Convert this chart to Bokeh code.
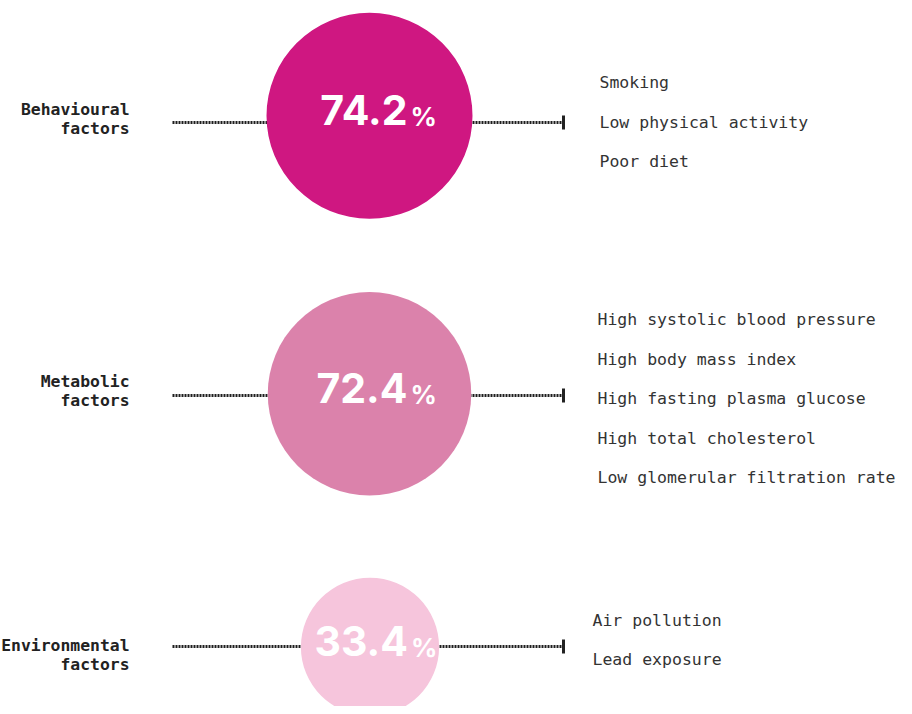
import numpy as np
from bokeh.plotting import figure
from bokeh.models import Range1d
from bokeh.core.properties import value
from bokeh.embed import file_html
from bokeh.resources import INLINE

# ---- data ----
categories = ["Behavioural\nfactors", "Metabolic\nfactors", "Environmental\nfactors"]
shares = [74.2, 72.4, 33.4]
risk_lists = [
    ["Smoking", "Low physical activity", "Poor diet"],
    ["High systolic blood pressure", "High body mass index",
     "High fasting plasma glucose", "High total cholesterol",
     "Low glomerular filtration rate"],
    ["Air pollution", "Lead exposure"],
]
colors = ["#cf1781", "#db82ab", "#f6c5dc"]

# ---- layout (screen pixels) ----
cx = [369, 369, 369.5]
cy = [115.3, 393.3, 646.4]
line_y = [122, 395, 646]
label_y = [109, 381, 645]
list_x = [599, 597, 592]
list_mid = [121.5, 398, 639.5]
row_gap = 39.5
r_scale = 103 / np.sqrt(74.2)

p = figure(width=896, height=706, output_backend="svg", toolbar_location=None,
           x_range=Range1d(0, 896), y_range=Range1d(706, 0),
           min_border=0)
p.axis.visible = False
p.grid.visible = False
p.outline_line_color = None
p.background_fill_color = "white"
p.border_fill_color = "white"

mono = value("DejaVu Sans Mono")

for i, (cat, v, items) in enumerate(zip(categories, shares, risk_lists)):
    r = r_scale * np.sqrt(v)
    # connector line
    p.segment(x0=[172], y0=[line_y[i]], x1=[563], y1=[line_y[i]],
              line_color="#1e1e1e", line_width=3, line_dash="2 1")
    p.segment(x0=[563], y0=[line_y[i] - 7], x1=[563], y1=[line_y[i] + 7],
              line_color="#222222", line_width=3)
    # circle
    p.circle(x=[cx[i]], y=[cy[i]], radius=r, fill_color=colors[i], line_color=None)
    # value
    p.text(x=[cx[i] + 38], y=[cy[i] - 6], text=[f"{v:.1f}"],
           text_font=value("Inter"), text_font_style="bold", text_font_size="41px",
           text_color="white", text_align="right", text_baseline="alphabetic")
    p.text(x=[cx[i] + 41], y=[cy[i] + 1], text=["%"],
           text_font=value("Inter"), text_font_style="bold", text_font_size="26px",
           text_color="white", text_align="left", text_baseline="alphabetic")
    # category label
    lines = cat.split("\n")
    p.text(x=[129] * len(lines), y=[label_y[i] + k * 19 for k in range(len(lines))],
           text=lines, text_font=mono, text_font_style="bold", text_font_size="16.4px",
           text_color="#222222", text_align="right", text_baseline="middle")
    # risk list
    n = len(items)
    ys = [list_mid[i] + (k - (n - 1) / 2) * row_gap for k in range(n)]
    p.text(x=[list_x[i]] * n, y=ys, text=items, text_font=mono,
           text_font_size="16.5px", text_color="#333333",
           text_align="left", text_baseline="middle")

open("out.html", "w").write(file_html(p, INLINE))
